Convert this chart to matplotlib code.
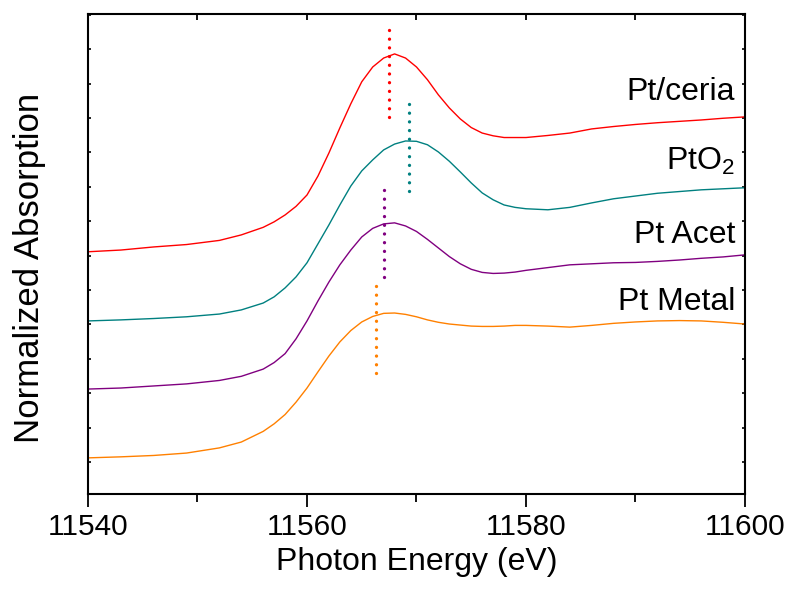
import matplotlib
matplotlib.use("Agg")
import matplotlib.pyplot as plt
from matplotlib.ticker import MultipleLocator, NullFormatter

plt.rcParams['font.family'] = ['Liberation Sans', 'DejaVu Sans']
plt.rcParams['mathtext.fontset'] = 'custom'
plt.rcParams['mathtext.rm'] = 'Liberation Sans'
plt.rcParams['mathtext.it'] = 'Liberation Sans'

# photon energy grid (eV)
energy = [11540, 11543, 11546, 11549, 11552, 11554, 11556, 11557, 11558, 11559,
          11560, 11561, 11562, 11563, 11564, 11565, 11566, 11567, 11568, 11569,
          11570, 11571, 11572, 11573, 11574, 11575, 11576, 11577, 11578, 11579,
          11580, 11582, 11584, 11586, 11588, 11590, 11592, 11594, 11596, 11598,
          11600]

# stacked spectra (offset, arbitrary units)
pt_ceria = [6.11, 6.16, 6.25, 6.32, 6.44, 6.60, 6.82, 6.98, 7.18, 7.43,
            7.76, 8.31, 8.98, 9.71, 10.41, 11.05, 11.48, 11.74, 11.86, 11.74,
            11.48, 11.11, 10.67, 10.29, 9.97, 9.72, 9.56, 9.48, 9.43, 9.43,
            9.43, 9.49, 9.56, 9.68, 9.75, 9.81, 9.86, 9.90, 9.94, 9.99,
            10.03]
pto2 = [4.10, 4.13, 4.17, 4.22, 4.30, 4.42, 4.62, 4.80, 5.06, 5.38,
        5.79, 6.34, 6.89, 7.47, 8.02, 8.46, 8.78, 9.07, 9.24, 9.33,
        9.32, 9.22, 9.01, 8.74, 8.43, 8.11, 7.82, 7.62, 7.47, 7.40,
        7.36, 7.33, 7.40, 7.53, 7.65, 7.73, 7.81, 7.86, 7.91, 7.94,
        7.97]
pt_acet = [2.12, 2.15, 2.21, 2.27, 2.37, 2.49, 2.70, 2.89, 3.15, 3.58,
           4.10, 4.68, 5.23, 5.73, 6.16, 6.54, 6.79, 6.92, 6.95, 6.86,
           6.70, 6.47, 6.22, 5.97, 5.76, 5.60, 5.51, 5.48, 5.49, 5.52,
           5.57, 5.65, 5.73, 5.76, 5.79, 5.80, 5.83, 5.87, 5.92, 5.96,
           6.02]
pt_metal = [0.12, 0.15, 0.19, 0.26, 0.41, 0.58, 0.89, 1.11, 1.38, 1.74,
            2.15, 2.62, 3.08, 3.49, 3.82, 4.07, 4.23, 4.32, 4.33, 4.29,
            4.22, 4.13, 4.06, 4.01, 3.98, 3.95, 3.94, 3.94, 3.95, 3.97,
            3.97, 3.95, 3.92, 3.97, 4.03, 4.07, 4.10, 4.11, 4.10, 4.06,
            4.01]

# edge markers (eV) and their vertical spans
edge_energy = [11567.5, 11569.3, 11567.0, 11566.3]
edge_top = [12.70, 10.55, 8.05, 5.26]
edge_bottom = [10.03, 7.88, 5.38, 2.59]

labels = ['Pt/ceria', 'PtO$_2$', 'Pt Acet', 'Pt Metal']
colors = ['#ff0000', '#008080', '#800080', '#ff8000']
spectra = [pt_ceria, pto2, pt_acet, pt_metal]
label_y = [0.821, 0.675, 0.523, 0.383]

fig = plt.figure(figsize=(7.94, 6.01), dpi=100)
ax = fig.add_axes([88 / 794, 107 / 601, 657 / 794, 480 / 601])

for spec, c in zip(spectra, colors):
    ax.plot(energy, spec, color=c, lw=1.0)

for e, top, bot, c in zip(edge_energy, edge_top, edge_bottom, colors):
    ax.vlines(e, bot, top, colors=c, linestyles=(0, (0.01, 2.6)), lw=2.4,
              capstyle='round')

for lab, c, yy in zip(labels, colors, label_y):
    ax.text(0.985, yy, lab, transform=ax.transAxes, ha='right', va='baseline',
            fontsize=23)

ax.set_xlim(11540, 11600)
ax.set_ylim(-0.93, 13.02)

ax.xaxis.set_major_locator(MultipleLocator(20))
ax.xaxis.set_minor_locator(MultipleLocator(10))
ax.yaxis.set_major_locator(MultipleLocator(1))
ax.yaxis.set_major_formatter(NullFormatter())

for s in ax.spines.values():
    s.set_linewidth(1.5)

ax.tick_params(axis='x', which='major', direction='out', length=9, width=1.3,
               labelsize=21.5, pad=5, top=False)
ax.tick_params(axis='x', which='minor', direction='out', length=6, width=1.3, top=False)
ax.tick_params(axis='y', which='major', direction='in', length=2.5, width=1.2,
               left=True, right=True, labelleft=False)

# inward ticks along the top edge
top_ax = ax.secondary_xaxis('top')
top_ax.xaxis.set_major_locator(MultipleLocator(10))
top_ax.xaxis.set_major_formatter(NullFormatter())
top_ax.tick_params(direction='in', length=4, width=1.3)
top_ax.spines['top'].set_visible(False)

ax.set_xlabel('Photon Energy (eV)', fontsize=23)
ax.xaxis.set_label_coords(0.501, -0.110)
ax.set_ylabel('Normalized Absorption', fontsize=25)
ax.yaxis.set_label_coords(-0.064, 0.472)

fig.savefig('out.png', dpi=100)
